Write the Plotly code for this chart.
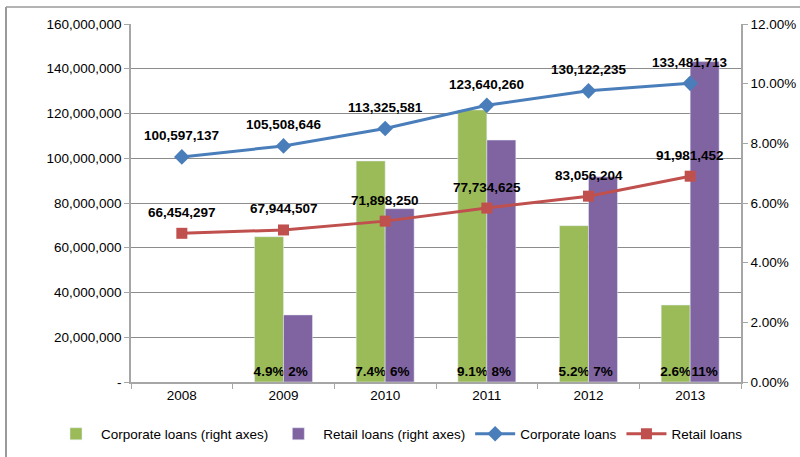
import plotly.graph_objects as go

years = ["2008", "2009", "2010", "2011", "2012", "2013"]
corp_share = [None, 0.0487, 0.0741, 0.0912, 0.0524, 0.0258]
retail_share = [None, 0.0225, 0.0581, 0.0811, 0.0688, 0.1074]
corp_loans = [100597137, 105508646, 113325581, 123640260, 130122235, 133481713]
retail_loans = [66454297, 67944507, 71898250, 77734625, 83056204, 91981452]
left_ticks = [0, 20000000, 40000000, 60000000, 80000000, 100000000, 120000000, 140000000, 160000000]
right_ticks = [0, 0.02, 0.04, 0.06, 0.08, 0.10, 0.12]

FONT = "Liberation Sans, Arial, sans-serif"
GREEN = "#9BBB59"
PURPLE = "#8064A2"
BLUE = "#4A7EBB"
RED = "#C0504D"

corp_txt = ["" if v is None else f"{v*100:.1f}%" for v in corp_share]
ret_txt = ["" if v is None else f"{v*100:.0f}%" for v in retail_share]

fig = go.Figure()
fig.add_trace(go.Bar(
    x=years, y=corp_share, name="Corporate loans (right axes)", marker_color=GREEN,
    text=corp_txt, textposition="inside", insidetextanchor="start", constraintext="none",
    textangle=0, textfont=dict(family=FONT, size=13.5, color="black", weight="bold"),
    yaxis="y", hoverinfo="skip"))
fig.add_trace(go.Bar(
    x=years, y=retail_share, name="Retail loans (right axes)", marker_color=PURPLE,
    text=ret_txt, textposition="inside", insidetextanchor="start", constraintext="none",
    textangle=0, textfont=dict(family=FONT, size=13.5, color="black", weight="bold"),
    yaxis="y", hoverinfo="skip"))
fig.add_trace(go.Scatter(
    x=years, y=corp_loans, name="Corporate loans", mode="lines+markers",
    line=dict(color=BLUE, width=3), marker=dict(symbol="diamond", size=12, color=BLUE),
    yaxis="y2"))
fig.add_trace(go.Scatter(
    x=years, y=retail_loans, name="Retail loans", mode="lines+markers",
    line=dict(color=RED, width=3), marker=dict(symbol="square", size=11, color=RED),
    yaxis="y2"))

annotations = []
for series in (corp_loans, retail_loans):
    for i, v in enumerate(series):
        annotations.append(dict(
            x=i, y=v, xref="x", yref="y2", text=f"{v:,}", showarrow=False,
            yshift=21, font=dict(family=FONT, size=13.5, color="black", weight="bold")))

def px_x(p):
    return (p - 131) / 610

def px_y(p):
    return (382 - p) / 358

shapes = [
    dict(type="line", xref="paper", yref="paper", x0=px_x(6), x1=px_x(6), y0=px_y(7), y1=px_y(460),
         line=dict(color="#9a9a9a", width=2)),
    dict(type="line", xref="paper", yref="paper", x0=px_x(6), x1=px_x(805), y0=px_y(7), y1=px_y(7),
         line=dict(color="#9a9a9a", width=1.5)),
]

fig.update_layout(
    width=800, height=457,
    margin=dict(l=131, r=59, t=24, b=75, autoexpand=False),
    paper_bgcolor="white", plot_bgcolor="white",
    font=dict(family=FONT, size=13.5, color="black"),
    barmode="group", bargap=0.43, bargroupgap=0,
    showlegend=True,
    legend=dict(orientation="h", x=px_x(51), xanchor="left", y=px_y(434), yanchor="middle",
                font=dict(family=FONT, size=13.5, color="black"), itemwidth=40,
                traceorder="normal"),
    xaxis=dict(type="category", showline=True, linecolor="#a6a6a6", linewidth=1.5,
               ticks="outside", tickson="boundaries", ticklen=5, tickcolor="#a6a6a6",
               showgrid=False, zeroline=False, range=[-0.5, 5.5], automargin=False),
    yaxis=dict(side="right", range=[0, 0.12], tickvals=right_ticks, tickformat=".2%",
               showline=True, linecolor="#a6a6a6", linewidth=1.5, ticks="outside",
               ticklen=5, tickcolor="#a6a6a6", showgrid=False, zeroline=False,
               automargin=False),
    yaxis2=dict(side="left", overlaying="y", range=[0, 160000000], tickvals=left_ticks,
                ticktext=["-" if t == 0 else f"{t:,}" for t in left_ticks],
                showline=True, linecolor="#a6a6a6", linewidth=1.5, ticks="outside",
                ticklen=5, tickcolor="#a6a6a6", showgrid=True, gridcolor="#8c8c8c",
                gridwidth=1, zeroline=False, automargin=False),
    annotations=annotations,
    shapes=shapes,
)

fig.write_html("out.html", config={"displayModeBar": False},
               post_script="document.body.style.margin='0';document.body.style.overflow='hidden';")
